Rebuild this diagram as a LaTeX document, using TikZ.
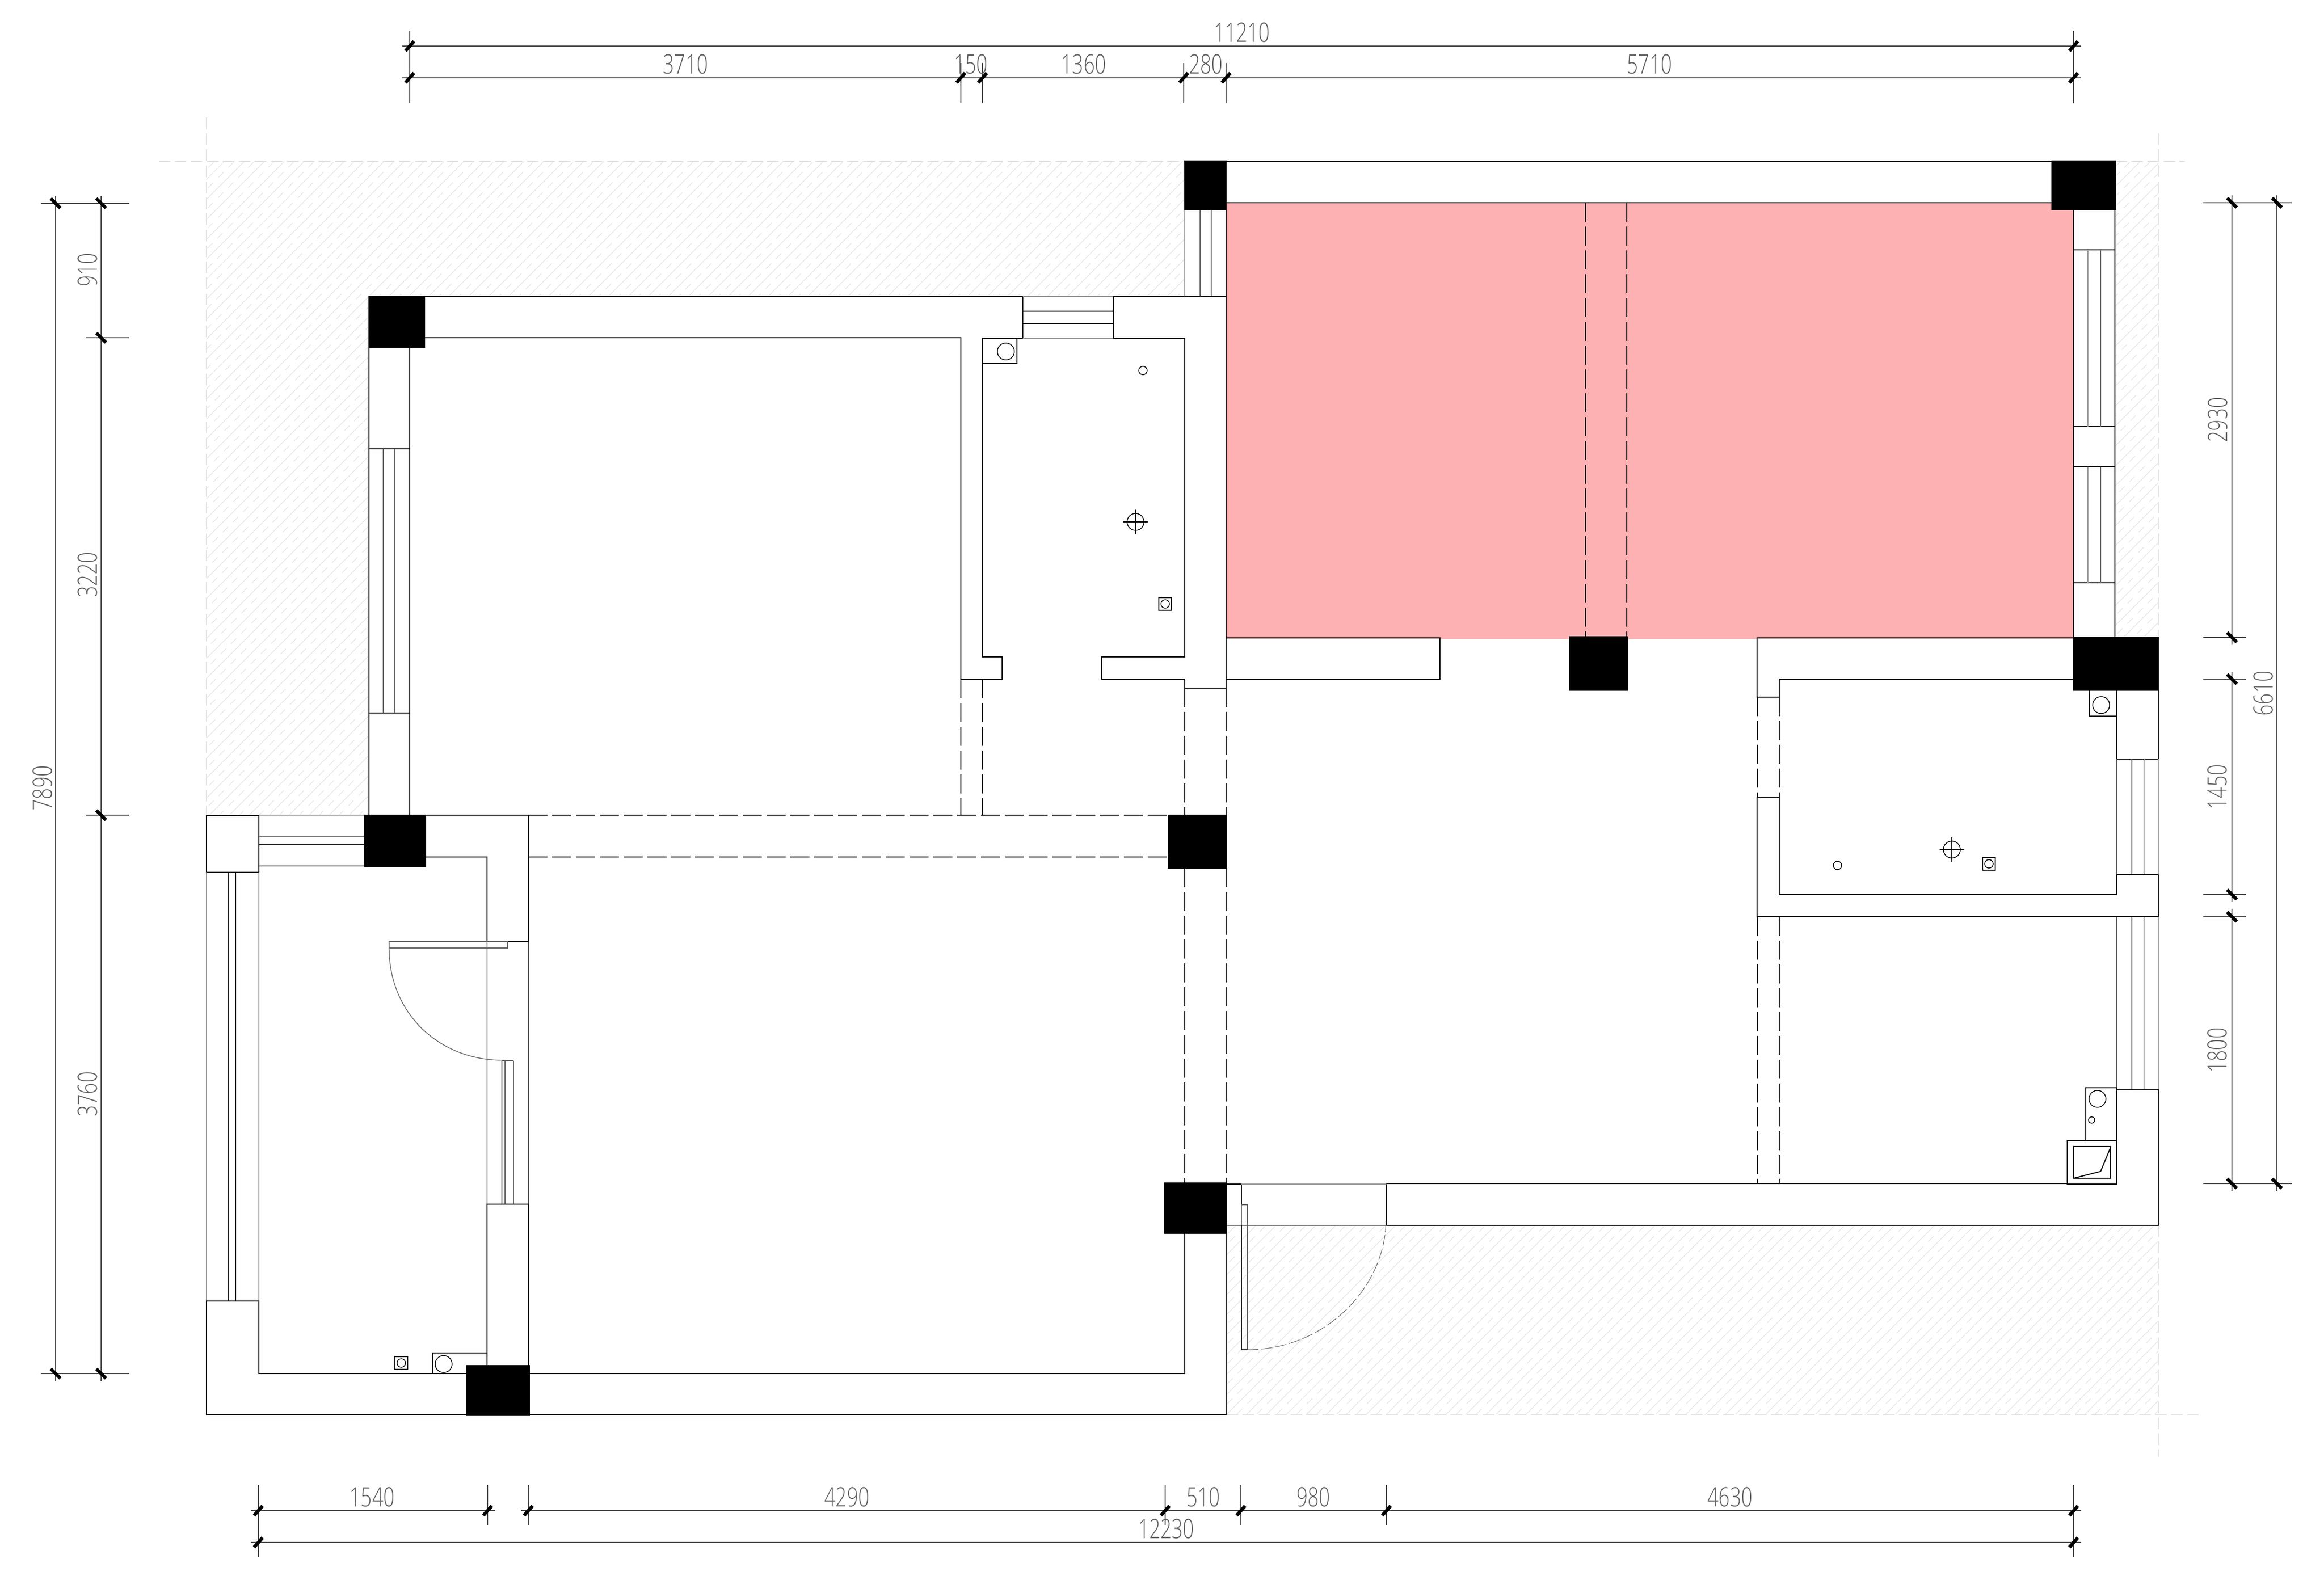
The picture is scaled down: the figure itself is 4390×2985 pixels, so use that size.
\documentclass[tikz,border=0pt]{standalone}
\usepackage{fontspec}
\newfontfamily\dimfont[FakeStretch=0.73]{Open Sans Light}
\definecolor{roompink}{HTML}{FEB1B2}
\definecolor{hatchgray}{HTML}{E2E2E2}
\definecolor{dimgray}{HTML}{4A4A4A}
\definecolor{dimtextgray}{HTML}{5E5E5E}

\begin{document}
\begin{tikzpicture}[x=0.01cm,y=-0.01cm]

\tikzstyle{wall} = [draw=black, line width=0.75pt, line join=miter]
\tikzstyle{thin wall} = [draw=black, line width=0.42pt]
\tikzstyle{glass} = [draw=black!60, line width=0.4pt]
\tikzstyle{ghost} = [draw=black!40, line width=0.4pt]
\tikzstyle{hidden} = [draw=black, line width=0.45pt, dash pattern=on 10.2pt off 2.6pt]
\tikzstyle{pillar} = [draw=black, fill=black, line width=0.4pt]
\tikzstyle{axis} = [draw=hatchgray, line width=0.4pt, dash pattern=on 6.2pt off 2.4pt]
\tikzstyle{dimline} = [draw=dimgray, line width=0.38pt]
\tikzstyle{dimslash} = [draw=black, line width=1.8pt]
\tikzstyle{dimtext} = [inner sep=0pt, text=dimtextgray, font=\dimfont\fontsize{14.4}{14.4}\selectfont]
\tikzstyle{dimtextv} = [dimtext, rotate=90]

\newcommand{\dimLabel}[4]{\path (#2,#3) node (#1) [dimtext] {#4};}
\newcommand{\dimLabelV}[4]{\path (#2,#3) node (#1) [dimtextv] {#4};}
\newcommand{\hTick}[2]{\draw[dimslash] (#1,#2)+(-8,9) -- +(8,-9);}
\newcommand{\vTick}[2]{\draw[dimslash] (#1,#2)+(-9,-9) -- +(9,9);}
\newcommand{\drainMark}[2]{%
\draw[thin wall] (#1,#2)+(-12,-12) rectangle +(12,12);
\draw[thin wall] (#1,#2) circle[radius=8];}
\newcommand{\lampMark}[2]{%
\draw[thin wall] (#1,#2) circle[radius=16];
\draw[thin wall] (#1,#2)+(-23,0) -- +(23,0);
\draw[thin wall] (#1,#2)+(0,-23) -- +(0,23);}

\useasboundingbox (0,0) rectangle (4390,2985);

\begin{scope}
\clip (390,305) rectangle (2238,560) (390,560) rectangle (697,1540)
      (3996,305) rectangle (4077,1204) (2317,2315) rectangle (4077,2673);
\foreach \k in {-2,...,160}{
  \pgfmathsetmacro{\c}{766.7+37.7*\k}
  \pgfmathsetmacro{\d}{\c+18.85}
  \draw[hatchgray, line width=0.3pt] (\c,0) -- (0,\c);
  \draw[hatchgray, line width=0.3pt, dash pattern=on 4pt off 3.7pt] (\d,0) -- (0,\d);
}
\end{scope}

\fill[roompink] (2316,383) rectangle (3917,1207);

\draw[axis] (300,305) -- (2238,305);
\draw[axis] (390,222) -- (390,1540);
\draw[axis] (3996,305) -- (4127,305);
\draw[axis] (4077,252) -- (4077,1204);
\draw[axis] (2317,2673) -- (4158,2673);
\draw[axis] (4077,2315) -- (4077,2752);

% upper rooms
\draw[wall] (2316,305) -- (3876,305);
\draw[wall] (2316,383) -- (3876,383);
\draw[wall] (802,560) -- (1932,560) -- (1932,639);
\draw[wall] (802,638) -- (1815,638) -- (1815,1283) -- (1893,1283) -- (1893,1241) -- (1856,1241) -- (1856,639) -- (1932,639);
\draw[wall] (2316,560) -- (2103,560) -- (2103,639) -- (2238,639) -- (2238,1241) -- (2081,1241) -- (2081,1283) -- (2238,1283) -- (2238,1300) -- (2316,1300);
\draw[wall] (2316,396) -- (2316,1300);
\draw[thin wall] (1932,588) -- (2103,588);
\draw[thin wall] (1932,611) -- (2103,611);
\draw[ghost] (1932,639) -- (2103,639);
\draw[ghost] (1932,560) -- (2103,560);
\draw[wall] (1856,686) -- (1921,686) -- (1921,639);
\draw[thin wall] (1900,664) circle[radius=16];
\draw[thin wall] (2159,700) circle[radius=8];
\lampMark{2145}{986}
\drainMark{2201}{1141}
\draw[ghost] (2238,396) -- (2238,560);
\draw[glass] (2267,396) -- (2267,560);
\draw[glass] (2288,396) -- (2288,560);

\draw[wall] (697,656) -- (697,1540);
\draw[wall] (774,656) -- (774,1540);
\draw[wall] (697,848) -- (774,848);
\draw[wall] (697,1347) -- (774,1347);
\draw[glass] (724,848) -- (724,1347);
\draw[glass] (745,848) -- (745,1347);

\draw[wall] (2316,1205) rectangle (2720,1283);
\draw[hidden] (2995,383) -- (2995,1203);
\draw[hidden] (3073,383) -- (3073,1203);

% east window wall
\draw[wall] (3917,396) -- (3917,1204);
\draw[wall] (3995,396) -- (3995,1204);
\draw[wall] (3917,472) -- (3995,472);
\draw[wall] (3917,806) -- (3995,806);
\draw[wall] (3917,882) -- (3995,882);
\draw[wall] (3917,1101) -- (3995,1101);
\draw[ghost] (3944,472) -- (3944,806);
\draw[glass] (3968,472) -- (3968,806);
\draw[ghost] (3944,882) -- (3944,1101);
\draw[glass] (3968,882) -- (3968,1101);

% east rooms
\draw[wall] (3917,1205) -- (3319,1205) -- (3319,1317) -- (3361,1317) -- (3361,1283) -- (3917,1283);
\draw[wall] (3361,1507) -- (3319,1507) -- (3319,1732) -- (4077,1732) -- (4077,1652) -- (3998,1652) -- (3998,1690) -- (3361,1690) -- (3361,1507);
\draw[hidden] (3320,1317) -- (3320,1507);
\draw[hidden] (3361,1317) -- (3361,1507);
\draw[hidden] (3320,1732) -- (3320,2236);
\draw[hidden] (3361,1732) -- (3361,2236);
\draw[wall] (3998,1304) -- (3998,1434) -- (4077,1434) -- (4077,1304);
\draw[wall] (3947,1304) -- (3947,1353) -- (3998,1353);
\draw[thin wall] (3969,1332) circle[radius=16];
\draw[glass] (3998,1434) -- (3998,1652);
\draw[glass] (4027,1434) -- (4027,1652);
\draw[ghost] (4050,1434) -- (4050,1652);
\draw[ghost] (4077,1434) -- (4077,1652);
\draw[glass] (3998,1732) -- (3998,2055);
\draw[glass] (4027,1732) -- (4027,2059);
\draw[ghost] (4050,1732) -- (4050,2059);
\draw[ghost] (4077,1732) -- (4077,2059);
\draw[thin wall] (3471,1635) circle[radius=8];
\lampMark{3687}{1605}
\drainMark{3757}{1632}

\draw[wall] (3998,2059) -- (4077,2059) -- (4077,2315) -- (2619,2315) -- (2619,2236) -- (3905,2236);
\draw[wall] (3905,2155) rectangle (3998,2237);
\draw[wall] (3940,2155) -- (3940,2055) -- (3998,2055) -- (3998,2155);
\draw[thin wall] (3962,2076) circle[radius=16];
\draw[thin wall] (3951,2116) circle[radius=6];
\draw[thin wall, line width=0.55pt] (3917,2166) rectangle (3987,2226);
\draw[thin wall, line width=0.55pt] (3917,2226) -- (3968,2213) -- (3987,2167);

% south west rooms
\draw[wall] (390,1541) rectangle (489,1648);
\draw[ghost] (489,1540) -- (689,1540);
\draw[glass] (489,1581) -- (689,1581);
\draw[thin wall] (489,1596) -- (689,1596);
\draw[glass] (489,1636) -- (689,1636);
\draw[ghost] (390,1648) -- (390,2458);
\draw[thin wall] (432,1648) -- (432,2458);
\draw[thin wall] (445,1648) -- (445,2458);
\draw[ghost] (489,1648) -- (489,2458);
\draw[wall] (804,1540) -- (998,1540) -- (998,1779) -- (920,1779) -- (920,1619) -- (804,1619);
\draw[hidden] (998,1540) -- (2207,1540);
\draw[hidden] (998,1619) -- (2207,1619);
\draw[hidden] (1815,1283) -- (1815,1540);
\draw[hidden] (1856,1283) -- (1856,1540);
\draw[hidden] (2238,1300) -- (2238,1540);
\draw[hidden] (2316,1300) -- (2316,1540);
\draw[hidden] (2238,1640) -- (2238,2236);
\draw[hidden] (2316,1640) -- (2316,2236);
\draw[ghost] (920,1779) -- (920,2275);
\draw[thin wall, draw=black!70] (998,1779) -- (998,2275);
\draw[glass] (735,1779) rectangle (959,1791);
\draw[glass] (735,1791) .. controls (735,1915) and (830,2003) .. (949,2003);
\draw[glass] (948,2004) -- (970,2004);
\draw[glass] (948,2004) -- (948,2275);
\draw[glass] (954,2004) -- (954,2275);
\draw[glass] (970,2004) -- (970,2275);
\draw[wall] (920,2580) -- (920,2275) -- (998,2275) -- (998,2580);
\draw[wall] (882,2595) -- (489,2595) -- (489,2458) -- (390,2458) -- (390,2673) -- (2316,2673) -- (2316,2330);
\draw[wall] (1000,2595) -- (2238,2595) -- (2238,2330);
\draw[wall] (817,2595) -- (817,2556) -- (920,2556);
\draw[thin wall] (838,2577) circle[radius=16];
\drainMark{758}{2575}

% south door
\draw[wall] (2317,2237) rectangle (2345,2315);
\draw[ghost] (2345,2237) -- (2619,2237);
\draw[glass] (2317,2315) -- (2619,2315);
\draw[glass] (2345,2276) rectangle (2356,2550);
\draw[thin wall] (2345,2315) -- (2345,2550) -- (2356,2550);
\draw[glass, line width=0.3pt, dash pattern=on 6pt off 1.6pt] (2356,2550) .. controls (2505,2550) and (2618,2430) .. (2618,2305);

\filldraw[pillar] (697,560) rectangle (802,656);
\filldraw[pillar] (2238,304) rectangle (2316,396);
\filldraw[pillar] (3876,304) rectangle (3996,396);
\filldraw[pillar] (3917,1204) rectangle (4077,1304);
\filldraw[pillar] (2965,1203) rectangle (3074,1304);
\filldraw[pillar] (689,1540) rectangle (804,1637);
\filldraw[pillar] (2207,1540) rectangle (2317,1640);
\filldraw[pillar] (2200,2235) rectangle (2317,2330);
\filldraw[pillar] (882,2580) rectangle (1000,2674);

% dimensions
\draw[dimline] (760,87) -- (3931,87);
\draw[dimline] (760,147) -- (3931,147);
\draw[dimline] (774,58) -- (774,195);
\draw[dimline] (3917,58) -- (3917,195);
\draw[dimline] (1815,119) -- (1815,195);
\draw[dimline] (1856,119) -- (1856,195);
\draw[dimline] (2236,119) -- (2236,195);
\draw[dimline] (2316,119) -- (2316,195);
\hTick{774}{87} \hTick{3917}{87}
\hTick{774}{147} \hTick{1815}{147} \hTick{1856}{147}
\hTick{2236}{147} \hTick{2316}{147} \hTick{3917}{147}
\dimLabel{topAll}{2346}{61}{11210}
\dimLabel{topA}{1295}{121}{3710}
\dimLabel{topB}{1834}{121}{150}
\dimLabel{topC}{2047}{121}{1360}
\dimLabel{topD}{2278}{121}{280}
\dimLabel{topE}{3116}{121}{5710}

\draw[dimline] (105,370) -- (105,2609);
\draw[dimline] (191,370) -- (191,2609);
\draw[dimline] (77,384) -- (244,384);
\draw[dimline] (162,638) -- (244,638);
\draw[dimline] (162,1540) -- (244,1540);
\draw[dimline] (77,2595) -- (244,2595);
\vTick{105}{384} \vTick{105}{2595}
\vTick{191}{384} \vTick{191}{638} \vTick{191}{1540} \vTick{191}{2595}
\dimLabelV{leftAll}{80}{1489}{7890}
\dimLabelV{leftA}{165}{510}{910}
\dimLabelV{leftB}{165}{1086}{3220}
\dimLabelV{leftC}{165}{2067}{3760}

\draw[dimline] (4216,369) -- (4216,1218);
\draw[dimline] (4216,1269) -- (4216,1704);
\draw[dimline] (4216,1718) -- (4216,2250);
\draw[dimline] (4301,369) -- (4301,2250);
\draw[dimline] (4162,383) -- (4329,383);
\draw[dimline] (4162,1204) -- (4243,1204);
\draw[dimline] (4162,1283) -- (4243,1283);
\draw[dimline] (4162,1690) -- (4243,1690);
\draw[dimline] (4162,1732) -- (4243,1732);
\draw[dimline] (4162,2236) -- (4329,2236);
\vTick{4216}{383} \vTick{4216}{1204} \vTick{4216}{1283}
\vTick{4216}{1690} \vTick{4216}{1732} \vTick{4216}{2236}
\vTick{4301}{383} \vTick{4301}{2236}
\dimLabelV{rightA}{4189}{793}{2930}
\dimLabelV{rightAll}{4275}{1310}{6610}
\dimLabelV{rightB}{4188}{1487}{1450}
\dimLabelV{rightC}{4188}{1984}{1800}

\draw[dimline] (474,2854) -- (935,2854);
\draw[dimline] (984,2854) -- (3931,2854);
\draw[dimline] (474,2914) -- (3931,2914);
\draw[dimline] (488,2805) -- (488,2941);
\draw[dimline] (921,2805) -- (921,2881);
\draw[dimline] (998,2805) -- (998,2881);
\draw[dimline] (2201,2805) -- (2201,2881);
\draw[dimline] (2344,2805) -- (2344,2881);
\draw[dimline] (2619,2805) -- (2619,2881);
\draw[dimline] (3917,2805) -- (3917,2941);
\hTick{488}{2854} \hTick{921}{2854} \hTick{998}{2854} \hTick{2201}{2854}
\hTick{2344}{2854} \hTick{2619}{2854} \hTick{3917}{2854}
\hTick{488}{2914} \hTick{3917}{2914}
\dimLabel{botA}{703}{2828}{1540}
\dimLabel{botB}{1600}{2828}{4290}
\dimLabel{botC}{2273}{2828}{510}
\dimLabel{botD}{2481}{2828}{980}
\dimLabel{botE}{3268}{2828}{4630}
\dimLabel{botAll}{2203}{2888}{12230}

\end{tikzpicture}
\end{document}
